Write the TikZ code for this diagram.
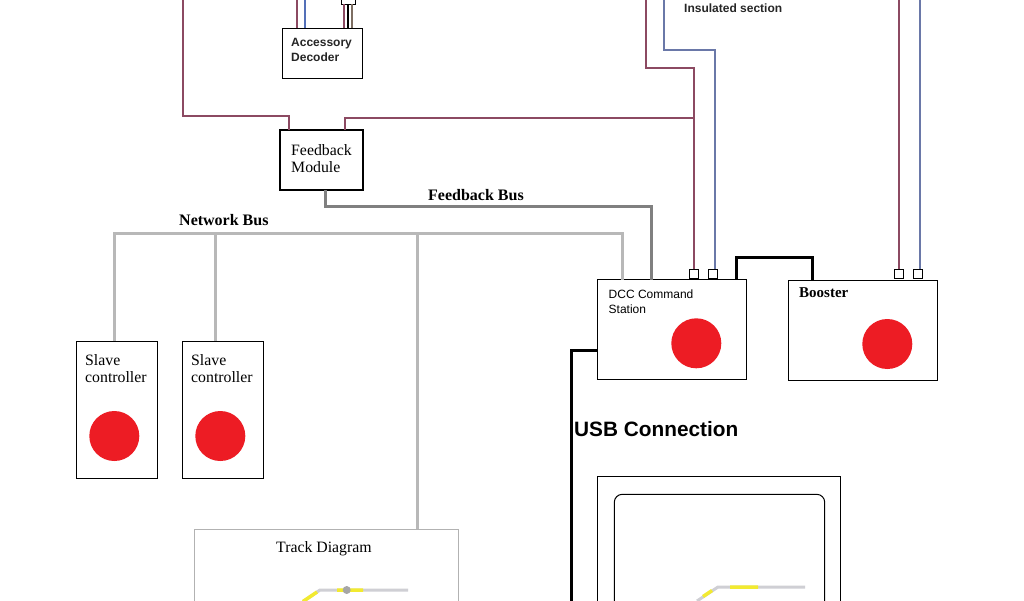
\documentclass[tikz,border=0pt]{standalone}
\usepackage{fontspec}
\setmainfont{Liberation Serif}
\newfontfamily\labelsans{Liberation Sans}
\usetikzlibrary{calc}
\definecolor{wirered}{HTML}{8C4A62}
\definecolor{wireblue}{HTML}{6A78A8}
\definecolor{decoderblue}{HTML}{5470B8}
\definecolor{wirebrown}{HTML}{7D6E62}
\definecolor{ledred}{HTML}{ED1C24}
\definecolor{busgray}{HTML}{B8B8B8}
\definecolor{fbgray}{HTML}{808080}
\definecolor{trackgray}{HTML}{CFCFD4}
\definecolor{trackyellow}{HTML}{F2EA30}
\tikzset{
  unitbox/.style={draw,fill=white,line width=1pt,rectangle,inner sep=0pt,outer sep=0pt},
  portbox/.style={unitbox,minimum width=9.5pt,minimum height=9.5pt},
  led/.style={circle,fill=ledred,draw=none,inner sep=0pt,minimum size=50pt},
  seriflabel/.style={anchor=west,font=\fontsize{15.8}{17}\selectfont,inner sep=0pt,align=left},
  sanslabel/.style={anchor=west,font=\labelsans\fontsize{12}{15}\selectfont,inner sep=0pt,align=left},
  heavylabel/.style={sanslabel,text=black!85,font=\labelsans\bfseries\fontsize{12}{15}\selectfont},
  boldlabel/.style={anchor=west,font=\fontsize{16}{17}\selectfont\bfseries,inner sep=0pt},
  redwire/.style={draw=wirered,line width=2pt},
  bluewire/.style={draw=wireblue,line width=2pt},
  netbus/.style={draw=busgray,line width=3pt},
  fbbus/.style={draw=fbgray,line width=3pt},
  blackbus/.style={draw=black,line width=3pt},
  trackline/.style={line width=3pt,trackgray},
  trackmark/.style={line width=3.5pt,trackyellow}
}
\begin{document}
\begin{tikzpicture}[x=1pt,y=-1pt]
  \useasboundingbox (0,0) rectangle (1024,600);
  \clip (0,0) rectangle (1024,600);
  % units
  \node[unitbox,minimum width=80pt,minimum height=50pt] (decoder) at (322,53) {};
  \node[unitbox,line width=2.5pt,minimum width=83pt,minimum height=60pt] (fbmodule) at (321.5,160) {};
  \node[unitbox,minimum width=149.5pt,minimum height=99.5pt] (station) at (672,329.5) {};
  \node[unitbox,minimum width=149.5pt,minimum height=99.5pt] (booster) at (863,330.5) {};
  \node[unitbox,minimum width=81pt,minimum height=137pt] (slavea) at (117,409.5) {};
  \node[unitbox,minimum width=81pt,minimum height=137pt] (slaveb) at (223,409.5) {};
  \node[unitbox,draw=gray!60,minimum width=264pt,minimum height=100pt] (panel) at (326.3,579.3) {};
  \node[unitbox,minimum width=243.5pt,minimum height=160pt] (screen) at (719,556.3) {};
  \draw[line width=1pt,rounded corners=8pt] (614.3,620) -- (614.3,494.3) -- (824.7,494.3) -- (824.7,620);
  % ports
  \node[unitbox,minimum width=14pt,minimum height=5pt] (plug) at (348.5,2) {};
  \node[portbox] (porta) at (694,274) {};
  \node[portbox] (portb) at (713.2,274) {};
  \node[portbox] (portc) at (899,274) {};
  \node[portbox] (portd) at (918.2,274) {};
  % leds
  \node[led] (leda) at (114.3,436) {};
  \node[led] (ledb) at (220.3,436) {};
  \node[led] (ledc) at (696.3,343.3) {};
  \node[led] (ledd) at (887.3,344) {};
  % track wires
  \coordinate (feedtop) at (183,-5);
  \coordinate (feedbend) at (183,116);
  \coordinate (feedin) at (289,116);
  \coordinate (feedout) at (344.7,118);
  \coordinate (stationbend) at (694,118);
  \draw[redwire] (feedtop) -- (feedbend) -- (feedin) -- (feedin |- fbmodule.north);
  \draw[redwire] (feedout |- fbmodule.north) -- (feedout) -- (stationbend);
  \draw[redwire] (porta.north) -- (694,67.7) -- (646,67.7) -- (646,-5);
  \draw[bluewire] (715,269) -- (715,50) -- (663.7,50) -- (663.7,-5);
  \draw[redwire] (portc.north) -- (899,-5);
  \draw[bluewire] (920,269) -- (920,-5);
  \draw[redwire] (297,-5) -- (297,28);
  \draw[bluewire,draw=decoderblue] (305,-5) -- (305,28);
  \draw[draw=wirered,line width=1.4pt] (344,4) -- (344,28);
  \draw[draw=black,line width=1.4pt] (348,4) -- (348,28);
  \draw[draw=wirebrown,line width=1.4pt] (352,4) -- (352,28);
  % buses
  \coordinate (netleft) at (114,233.5);
  \coordinate (netright) at (622.3,233.5);
  \draw[netbus] (slavea.north -| netleft) -- (netleft) -- (netright) -- (netright |- station.north);
  \draw[netbus] (215,233.5) -- (215,341);
  \draw[netbus] (417,233.5) -- (417,529.3);
  \draw[fbbus] (325,190) -- (325,206) -- (651.5,206) -- (651.5,279.5);
  \draw[blackbus] (736,279.5) -- (736,257.3) -- (812.3,257.3) -- (812.3,280.5);
  \draw[blackbus] (597.3,350) -- (571,350) -- (571,605);
  % track diagrams
  \draw[trackline] (408,590) -- (320,590) -- (303,601.5);
  \draw[trackmark] (337,590) -- (363,590) (317,592) -- (303,601.5);
  \node[circle,fill=gray!70,inner sep=0pt,minimum size=8pt] (turnout) at (346.7,590) {};
  \draw[trackline] (805,587) -- (718,587) -- (697,601);
  \draw[trackmark] (730,587) -- (758,587) (712,590.5) -- (703,596.5);
  % labels
  \node[heavylabel] (decodertxt) at (291,49.5) {Accessory\\Decoder};
  \node[seriflabel] (fbmoduletxt) at (291,158.5) {Feedback\\Module};
  \node[heavylabel] (sectiontxt) at (684,8.5) {Insulated section};
  \node[boldlabel] (fbbustxt) at (428,195) {Feedback Bus};
  \node[boldlabel] (netbustxt) at (179,220) {Network Bus};
  \node[seriflabel] (slaveatxt) at (85,368.5) {Slave\\controller};
  \node[seriflabel] (slavebtxt) at (191,368.5) {Slave\\controller};
  \node[sanslabel] (stationtxt) at (608.5,301.5) {DCC Command\\Station};
  \node[boldlabel,font=\fontsize{15}{17}\selectfont\bfseries] (boostertxt) at (799,293) {Booster};
  \node[anchor=west,inner sep=0pt,font=\labelsans\bfseries\fontsize{20.8}{24}\selectfont] (usbtxt) at (574,429) {USB Connection};
  \node[seriflabel] (tracktxt) at (276,548.5) {Track Diagram};
\end{tikzpicture}
\end{document}
